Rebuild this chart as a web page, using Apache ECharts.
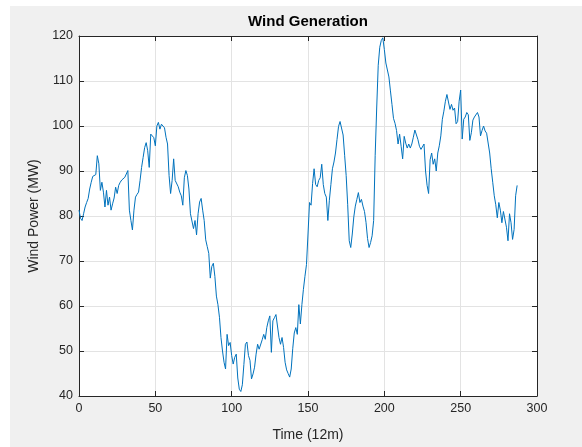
<!DOCTYPE html>
<html>
<head>
<meta charset="utf-8">
<script src="https://cdn.jsdelivr.net/npm/echarts@6/dist/echarts.min.js"></script>
<style>
html,body{margin:0;padding:0;background:#ffffff;width:582px;height:447px;overflow:hidden;}
#bg{position:absolute;left:10px;top:6px;width:572px;height:441px;background:#f0f0f0;}
#chart{position:absolute;left:0;top:0;width:582px;height:447px;}
</style>
</head>
<body>
<div id="bg"></div>
<div id="chart"></div>
<script>
var titleText = 'Wind Generation';
var xName = 'Time (12m)';
var yName = 'Wind Power (MW)';
var xTicks = [0, 50, 100, 150, 200, 250, 300];
var yTicks = [40, 50, 60, 70, 80, 90, 100, 110, 120];

var windPower = [
  81.3, 79.5, 79, 80.5, 82, 83, 83.9, 86, 87.5, 88.8,
  89, 89.2, 93.4, 91.6, 85.7, 87.5, 85.3, 82, 85.7, 82.4,
  84.2, 81.3, 82.7, 84, 86.4, 85, 86.8, 87.5, 88, 88.3,
  88.6, 89, 90.1, 81.3, 79, 76.9, 81.3, 84.2, 84.8, 85.3,
  87.9, 90.8, 93, 95.2, 96.3, 94.5, 90.8, 98.2, 97.8, 97.4,
  95.6, 100, 100.8, 99.3, 100.4, 100, 99.6, 97.5, 96, 89,
  85, 87.9, 92.7, 87.9, 87.5, 86.5, 85.3, 84.5, 82.4, 88.5,
  90.1, 89, 86, 80.5, 80.5, 77.2, 79, 75.8, 80.5, 83.1,
  83.9, 81.3, 79, 74.7, 73.2, 71.7, 66.2, 68.8, 69.5, 66.6,
  62.2, 60.3, 57.5, 53, 50, 47.5, 46, 53.7, 51.2, 51.9,
  49, 47.1, 48.6, 49.3, 44, 41.5, 41, 42.5, 47, 51.5,
  52, 49, 47.9, 43.8, 44.9, 46.4, 49.3, 51.5, 50.4, 50.8,
  52.5, 53.7, 52.6, 55.2, 56.7, 57.8, 49.7, 56.7, 57.4, 58.1,
  58.5, 53, 51.5, 53, 50.8, 47.5, 45.8, 45, 44.2, 46,
  50.5, 54, 55.2, 53.7, 60.3, 56, 60.3, 63.7, 66.6, 69.2,
  76, 83, 82.4, 87.2, 90.5, 87, 86.5, 87.9, 88.5, 91.5,
  87, 85, 84.2, 79, 83.5, 87, 90.5, 92, 94, 97,
  99.9, 101, 101.3, 98, 93.5, 89, 82.5, 74.5, 73, 76,
  79.8, 82.2, 83.7, 85.2, 83, 83.7, 82.2, 81, 78.6, 75,
  73, 74.1, 75.6, 79, 93.5, 104, 113.5, 117.5, 119, 119.6,
  117, 114, 114.2, 110.9, 107.8, 104.8, 101.7, 100.6, 99, 96,
  98.2, 95.5, 92.7, 97.7, 96.2, 95.1, 96, 95.1, 96, 97.5,
  99.1, 99.3, 97, 95.5, 94.8, 95, 96, 90, 86.8, 85,
  92.5, 94, 91.5, 92.7, 90, 94, 95.6, 97.8, 101.5, 103.3,
  105.5, 107, 107, 103.7, 104.8, 103.5, 104, 100.5, 101, 105.5,
  108, 97.1, 101.5, 102, 103, 102.5, 96.8, 98.5, 101.3, 102,
  102.4, 103, 102, 97.8, 99, 100, 98.9, 98.4, 98, 94,
  90.5, 87.5, 84.5, 82.5, 79.6, 83, 81.3, 78.5, 81, 80.8,
  77.5, 74.5, 80.5, 78.5, 74.8, 77, 84.5, 86.8
];

var seriesData = windPower.map(function (v, i) { return [i, v]; });

var axisColor = '#262626';
var gridColor = '#e3e3e3';
var fontFam = '"Liberation Sans", Arial, Helvetica, sans-serif';

var chart = echarts.init(document.getElementById('chart'), null, {renderer: 'canvas'});
var xMin = xTicks[0], xMax = xTicks[xTicks.length - 1];
var yMin = yTicks[0], yMax = yTicks[yTicks.length - 1];
var xInt = xTicks[1] - xTicks[0], yInt = yTicks[1] - yTicks[0];

chart.setOption({
  animation: false,
  backgroundColor: 'transparent',
  graphic: [{
    type: 'text', x: 308, y: 14,
    style: {text: titleText, font: 'bold 15px ' + fontFam, fill: '#000', textAlign: 'center', textVerticalAlign: 'top'}
  }],
  grid: {left: 79, top: 36, width: 458, height: 363, show: true, backgroundColor: '#ffffff', borderWidth: 0},
  xAxis: [{
    type: 'value', min: xMin, max: xMax, interval: xInt, position: 'bottom',
    name: xName, nameLocation: 'middle', nameGap: 32,
    nameTextStyle: {fontSize: 14, color: axisColor, fontFamily: fontFam},
    axisLine: {show: true, onZero: false, lineStyle: {color: axisColor, width: 1}},
    axisTick: {show: true, inside: true, length: 5, lineStyle: {color: axisColor}},
    axisLabel: {margin: 6, fontSize: 12.5, color: axisColor, fontFamily: fontFam},
    splitLine: {show: true, lineStyle: {color: gridColor, width: 1}}
  }, {
    type: 'value', min: xMin, max: xMax, interval: xInt, position: 'top',
    axisLine: {show: true, onZero: false, lineStyle: {color: axisColor, width: 1}},
    axisTick: {show: true, inside: true, length: 5, lineStyle: {color: axisColor}},
    axisLabel: {show: false}, splitLine: {show: false}
  }],
  yAxis: [{
    type: 'value', min: yMin, max: yMax, interval: yInt, position: 'left',
    name: yName, nameLocation: 'middle', nameGap: 31,
    nameTextStyle: {fontSize: 14, color: axisColor, fontFamily: fontFam},
    axisLine: {show: true, onZero: false, lineStyle: {color: axisColor, width: 1}},
    axisTick: {show: true, inside: true, length: 5, lineStyle: {color: axisColor}},
    axisLabel: {margin: 6, fontSize: 12.5, color: axisColor, fontFamily: fontFam},
    splitLine: {show: true, lineStyle: {color: gridColor, width: 1}}
  }, {
    type: 'value', min: yMin, max: yMax, interval: yInt, position: 'right',
    axisLine: {show: true, onZero: false, lineStyle: {color: axisColor, width: 1}},
    axisTick: {show: true, inside: true, length: 5, lineStyle: {color: axisColor}},
    axisLabel: {show: false}, splitLine: {show: false}
  }],
  series: [{
    type: 'line', data: seriesData, xAxisIndex: 0, yAxisIndex: 0,
    showSymbol: false, symbol: 'none',
    lineStyle: {color: '#0072BD', width: 1},
    clip: true
  }]
});
</script>
</body>
</html>
